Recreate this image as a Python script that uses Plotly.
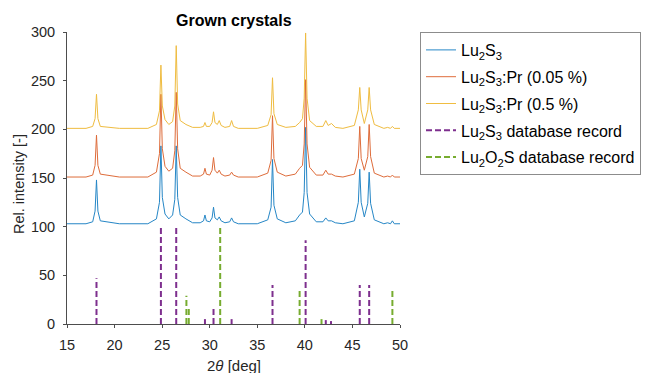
import plotly.graph_objects as go

# ---- data ----
two_theta = [15.0, 17.0, 17.7, 17.95, 18.1, 18.25, 18.5,
             20.5, 23.5, 24.4, 24.72, 24.87, 25.02, 25.3,
             25.7, 26.1, 26.33, 26.48, 26.63, 26.9,
             27.5, 28.2, 29.0, 29.35, 29.5, 29.65,
             30.0, 30.25, 30.4, 30.55, 30.8, 31.0, 31.2, 31.6, 32.1, 32.3, 32.5, 33.0,
             35.0, 36.1, 36.45, 36.6, 36.75, 37.1, 38.0,
             39.0, 39.45, 39.75, 39.93, 40.08, 40.23, 40.5, 41.2,
             41.9, 42.2, 42.45, 42.8, 43.2, 44.0,
             45.2, 45.62, 45.77, 45.92, 46.25, 46.61, 46.76, 46.91, 47.3,
             48.3, 48.7, 49.0, 49.2, 49.4, 50.0]

lu2s3 = [103, 103, 105, 116, 148, 116, 106,
         103, 103, 108, 125, 183, 130, 113,
         108, 112, 128, 183, 130, 112,
         108, 104, 104, 106, 112, 106,
         105, 109, 120, 109, 107, 110, 106, 104, 105, 109, 105, 103,
         103, 107, 120, 169, 122, 108, 104,
         106, 112, 115, 135, 202, 135, 113, 105,
         105, 109, 106, 106, 104, 103,
         106, 125, 159, 125, 110, 124, 156, 124, 107,
         103, 104, 103, 106, 103, 103]

lu2s3_pr005 = [151, 151, 153, 163, 194, 163, 154,
               151, 151, 156, 175, 236, 180, 162,
               157, 160, 178, 238, 180, 160,
               156, 152, 152, 154, 160, 154,
               153, 158, 171, 158, 155, 158, 154, 152, 153, 156, 153, 151,
               151, 155, 168, 214, 170, 156, 152,
               154, 160, 163, 185, 251, 185, 161, 153,
               153, 158, 154, 154, 152, 151,
               154, 170, 203, 170, 158, 172, 205, 172, 155,
               151, 152, 151, 153, 151, 151]

lu2s3_pr05 = [201, 201, 203, 211, 236, 211, 203,
              201, 201, 205, 219, 266, 224, 210,
              205, 208, 224, 286, 226, 209,
              205, 202, 202, 203, 207, 203,
              203, 207, 218, 207, 205, 209, 204, 202, 203, 209, 203, 201,
              201, 204, 215, 253, 216, 205, 202,
              203, 207, 211, 232, 299, 232, 209, 203,
              203, 209, 204, 206, 202, 201,
              204, 220, 243, 220, 206, 220, 243, 220, 205,
              201, 202, 201, 203, 201, 201]

db_lu2s3_pos = [18.1, 24.87, 26.48, 29.5, 30.4, 32.3, 36.6, 40.08, 42.2, 42.75, 45.77, 46.76]
db_lu2s3_int = [47, 100, 100, 5, 16, 5, 40, 86, 4, 3, 40, 40]

db_lu2o2s_pos = [27.55, 27.8, 31.1, 39.45, 41.75, 49.2]
db_lu2o2s_int = [29, 17, 100, 36, 5, 36]

series_names = ["Lu<sub>2</sub>S<sub>3</sub>",
                "Lu<sub>2</sub>S<sub>3</sub>:Pr (0.05 %)",
                "Lu<sub>2</sub>S<sub>3</sub>:Pr (0.5 %)"]
db_names = ["Lu<sub>2</sub>S<sub>3</sub> database record",
            "Lu<sub>2</sub>O<sub>2</sub>S database record"]

x_ticks = [15, 20, 25, 30, 35, 40, 45, 50]
y_ticks = [0, 50, 100, 150, 200, 250, 300]

colors = ["#0072BD", "#D95319", "#EDB120"]
db_colors = ["#7E2F8E", "#77AC30"]

FONT = "Arial, Liberation Sans, sans-serif"
# page body has an 8 px margin; figure is sized so plot area lands at (67,32)-(400,324)
OFF = 8
W, H = 650 - OFF, 373 - OFF
L, T = 67 - OFF, 32 - OFF
PW, PH = 333, 292
R, B = W - L - PW, H - T - PH

fig = go.Figure()

for i, (name, ys) in enumerate(zip(series_names, [lu2s3, lu2s3_pr005, lu2s3_pr05])):
    fig.add_trace(go.Scatter(x=two_theta, y=ys, mode="lines", name=name,
                             line=dict(color=colors[i], width=1),
                             opacity=0.85, legendgroup=f"g{i}"))


def stick_xy(pos, inten):
    xs, ys = [], []
    for p, v in zip(pos, inten):
        xs += [p, p, None]
        ys += [0, v, None]
    return xs, ys


for j, (name, pos, inten) in enumerate(zip(db_names, [db_lu2s3_pos, db_lu2o2s_pos],
                                            [db_lu2s3_int, db_lu2o2s_int])):
    xs, ys = stick_xy(pos, inten)
    fig.add_trace(go.Scatter(x=xs, y=ys, mode="lines", name=name,
                             line=dict(color=db_colors[j], width=2, dash="6px,3px"),
                             legendgroup=f"d{j}"))

fig.update_layout(
    width=W, height=H,
    margin=dict(l=L, r=R, t=T, b=B, autoexpand=False),
    paper_bgcolor="white", plot_bgcolor="white",
    font=dict(family=FONT, size=14, color="#262626"),
    showlegend=True,
    legend=dict(x=(420 - 67) / PW, y=1.0, xanchor="left", yanchor="top",
                bordercolor="#8c8c8c", borderwidth=1, bgcolor="white",
                font=dict(size=16, color="black"), tracegroupgap=3,
                traceorder="grouped"),
    annotations=[
        dict(text="<b>Grown crystals</b>", xref="paper", yref="paper",
             x=0.5, y=1 + 12 / PH, xanchor="center", yanchor="middle",
             showarrow=False, font=dict(size=16, color="black")),
        dict(text="2<i>θ</i> [deg]", xref="paper", yref="paper",
             x=0.5, y=-(365 - 324) / PH, xanchor="center", yanchor="middle",
             showarrow=False, font=dict(size=15, color="#262626")),
        dict(text="Rel. intensity [-]", xref="paper", yref="paper",
             x=-(67 - 19) / PW, y=(324 - 184) / PH, xanchor="center", yanchor="middle",
             textangle=-90, showarrow=False, font=dict(size=14.5, color="#262626")),
    ],
)

fig.update_xaxes(range=[15, 50], tickvals=x_ticks, automargin=False,
                 showgrid=False, zeroline=False, showline=True, linecolor="#4d4d4d",
                 linewidth=1, ticks="outside", ticklen=3, tickcolor="#4d4d4d",
                 ticklabelstandoff=5, tickfont=dict(size=14.5))
fig.update_yaxes(range=[0, 300], tickvals=y_ticks, automargin=False,
                 showgrid=False, zeroline=False, showline=True, linecolor="#4d4d4d",
                 linewidth=1, ticks="outside", ticklen=3, tickcolor="#4d4d4d",
                 ticklabelstandoff=5, tickfont=dict(size=14.5))

fig.write_html("out.html")
